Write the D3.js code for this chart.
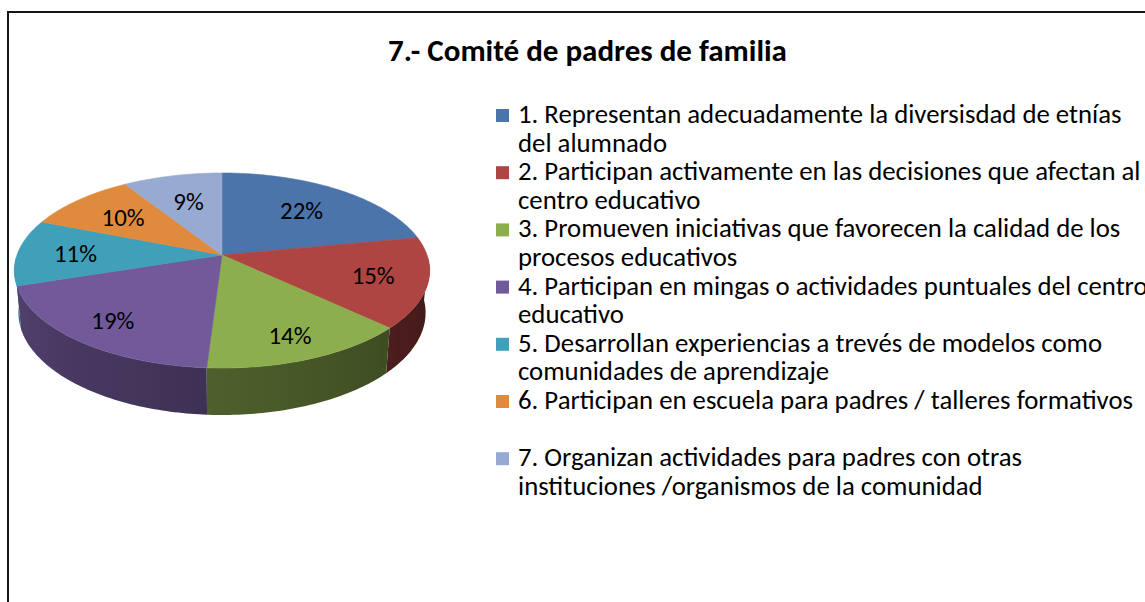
<!DOCTYPE html>
<html>
<head>
<meta charset="utf-8">
<script src="https://cdn.jsdelivr.net/npm/d3@7"></script>
<style>
  html, body { margin: 0; padding: 0; background: #fff; }
  svg { display: block; }
  text { font-family: Carlito, Calibri, "Open Sans", "Noto Sans", sans-serif; }
</style>
</head>
<body>
<script>
// ---------------- data ----------------
const title = "7.- Comité de padres de familia";
const categories = [
  ["1. Representan adecuadamente la diversisdad de etnías", "del alumnado"],
  ["2. Participan activamente en las decisiones que afectan al", "centro educativo"],
  ["3. Promueven iniciativas que favorecen la calidad de los", "procesos educativos"],
  ["4. Participan en mingas o actividades puntuales del centro", "educativo"],
  ["5. Desarrollan experiencias a trevés de modelos como", "comunidades de aprendizaje"],
  ["6. Participan en escuela para padres / talleres formativos"],
  ["7. Organizan actividades para padres con otras", "instituciones /organismos de la comunidad"]
];
const values = [22, 15, 14, 19, 11, 10, 9];
const percentLabels = ["22%", "15%", "14%", "19%", "11%", "10%", "9%"];
const colors = ["#4A74AA", "#AE4542", "#8DAE4F", "#72599A", "#41A0B9", "#E08A3E", "#97AAD2"];

// ---------------- layout ----------------
const W = 1145, H = 602;
const svg = d3.select("body").append("svg").attr("width", W).attr("height", H);
const defs = svg.append("defs");
svg.append("rect").attr("width", W).attr("height", H).attr("fill", "#fff");
svg.append("rect").attr("x", 8).attr("y", 12).attr("width", 1300).attr("height", 800)
  .attr("fill", "none").attr("stroke", "#161616").attr("stroke-width", 2);

function fitSize(str, weight, target, base) {
  const t = svg.append("text").attr("font-size", base).attr("font-weight", weight).text(str);
  const w = t.node().getComputedTextLength();
  t.remove();
  return base * target / w;
}

// ---------------- title ----------------
const titleSize = fitSize(title, "bold", 399, 24);
svg.append("text").attr("x", 587.5).attr("y", 61).attr("text-anchor", "middle")
  .attr("font-weight", "bold").attr("font-size", titleSize).attr("fill", "#000").text(title);

// ---------------- 3D pie (perspective projection) ----------------
const cx = 222, cy = 255, focal = 1142, dist = 5.57;
const phi = Math.asin(0.4636), sp = Math.sin(phi), cp = Math.cos(phi);
const thick = 0.2346;
function proj(theta, r, Y) {
  const X = r * Math.sin(theta), Z = r * Math.cos(theta);
  const v = Z * sp + Y * cp;
  const depth = dist + Z * cp - Y * sp;
  return [cx + focal * X / depth, cy - focal * v / depth];
}

const arcs = d3.pie().sort(null).value(d => d)(values);
const step = Math.PI / 180;
const deg = Math.PI / 180;

function shade(col, theta) {
  const d = theta / deg;
  let k = 0.35 + 0.31 * (d - 95) / 135;
  k = Math.max(0.3, Math.min(0.75, k));
  const c = d3.rgb(col);
  return d3.rgb(c.r * k, c.g * k, c.b * k).formatHex();
}

// walls: one polygon per slice (front-facing part), shaded with a horizontal gradient
const lo = 92 * deg, hi = 268 * deg;
const wallG = svg.append("g");
const walls = arcs.map((a, i) => ({ a, i, s: Math.max(a.startAngle, lo), e: Math.min(a.endAngle, hi) }))
  .filter(w => w.e > w.s)
  .sort((p, q) => Math.cos((q.s + q.e) / 2) - Math.cos((p.s + p.e) / 2));
walls.forEach(w => {
  const ts = d3.range(w.s, w.e, step).concat([w.e]);
  const top = ts.map(t => proj(t, 1, 0));
  const bot = ts.map(t => proj(t, 1, -thick)).reverse();
  const x1 = top[0][0], x2 = top[top.length - 1][0];
  const gid = "wall" + w.i;
  const g = defs.append("linearGradient").attr("id", gid)
    .attr("gradientUnits", "userSpaceOnUse").attr("x1", x1).attr("x2", x2).attr("y1", 0).attr("y2", 0);
  const n = 6;
  d3.range(n + 1).forEach(k => {
    const t = w.s + (w.e - w.s) * k / n;
    const x = proj(t, 1, 0)[0];
    const off = Math.abs(x2 - x1) < 1e-6 ? 0 : (x - x1) / (x2 - x1);
    g.append("stop").attr("offset", Math.max(0, Math.min(1, off))).attr("stop-color", shade(colors[w.i], t));
  });
  wallG.append("path").attr("d", d3.line()(top.concat(bot)) + "Z").attr("fill", `url(#${gid})`);
});

// top faces
const topG = svg.append("g");
arcs.forEach((a, i) => {
  const ts = d3.range(a.startAngle, a.endAngle, step).concat([a.endAngle]);
  const pts = [proj(0, 0, 0)].concat(ts.map(t => proj(t, 1, 0)));
  topG.append("path").attr("d", d3.line()(pts) + "Z")
    .attr("fill", colors[i]).attr("stroke", colors[i]).attr("stroke-width", 0.6);
});

// data labels
const labSize = fitSize("22%", "normal", 43, 20);
arcs.forEach((a, i) => {
  const mid = (a.startAngle + a.endAngle) / 2;
  const r = 0.72 - 0.08 * Math.cos(mid);
  const p = proj(mid, r, 0);
  svg.append("text").attr("x", p[0]).attr("y", p[1]).attr("text-anchor", "middle")
    .attr("dy", "0.36em").attr("font-size", labSize).attr("fill", "#000").text(percentLabels[i]);
});

// ---------------- legend ----------------
const legSize = fitSize(categories[0][0], "normal", 604, 20);
const legX = 496, textX = 518, baseY = 123, itemH = 57.2, lineH = 28.6;
const leg = svg.append("g");
categories.forEach((lines, i) => {
  const y0 = baseY + i * itemH;
  leg.append("rect").attr("x", legX).attr("y", y0 - 14).attr("width", 13).attr("height", 13)
    .attr("fill", colors[i]);
  lines.forEach((ln, j) => {
    leg.append("text").attr("x", textX).attr("y", y0 + j * lineH)
      .attr("font-size", legSize).attr("fill", "#000").text(ln);
  });
});
</script>
</body>
</html>
